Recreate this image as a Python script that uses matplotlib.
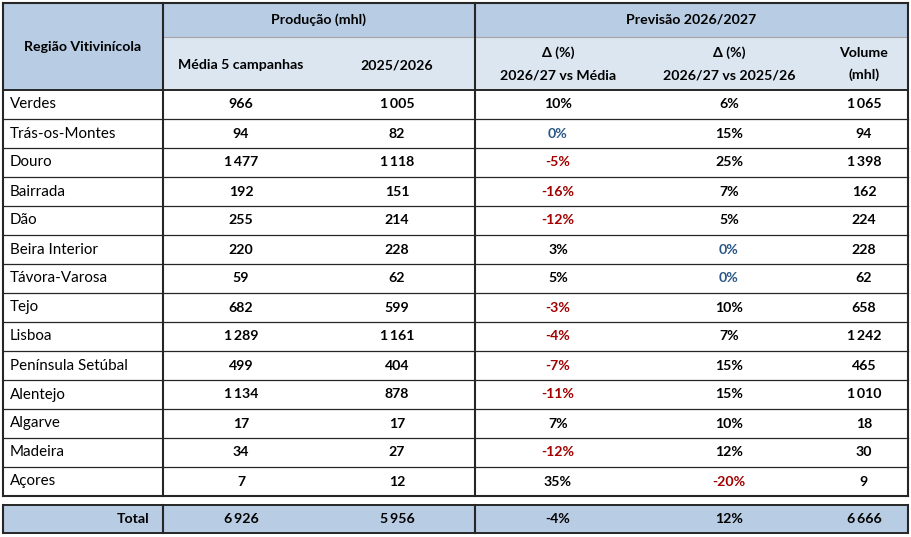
import matplotlib
matplotlib.use('Agg')
import matplotlib.pyplot as plt
from matplotlib.patches import Rectangle

plt.rcParams['font.family'] = ['Lato', 'DejaVu Sans']

regions = ['Verdes', 'Trás-os-Montes', 'Douro', 'Bairrada', 'Dão', 'Beira Interior',
           'Távora-Varosa', 'Tejo', 'Lisboa', 'Península Setúbal', 'Alentejo',
           'Algarve', 'Madeira', 'Açores']
media5 = [966, 94, 1477, 192, 255, 220, 59, 682, 1289, 499, 1134, 17, 34, 7]
prod_2526 = [1005, 82, 1118, 151, 214, 228, 62, 599, 1161, 404, 878, 17, 27, 12]
delta_media = [10, 0, -5, -16, -12, 3, 5, -3, -4, -7, -11, 7, -12, 35]
delta_2526 = [6, 15, 25, 7, 5, 0, 0, 10, 7, 15, 15, 10, 12, -20]
volume = [1065, 94, 1398, 162, 224, 228, 62, 658, 1242, 465, 1010, 18, 30, 9]
total = [6926, 5956, -4, 12, 6666]

DARK = '#b8cce4'
LIGHT = '#dce6f1'
LINE = '#262626'
RED = '#a00000'
BLUE = '#2a5686'


def fmt_num(v):
    return '{:,}'.format(v).replace(',', '\u2009')


def pct_color(v):
    if v < 0:
        return RED
    if v == 0:
        return BLUE
    return 'black'


fig = plt.figure(figsize=(9.12, 5.37), dpi=100)
ax = fig.add_axes([0, 0, 1, 1])
ax.set_xlim(0, 912)
ax.set_ylim(537, 0)
ax.axis('off')

# layout (pixels)
x0, x1, x2, x3 = 3, 163, 475, 908
col_x = [241, 397, 558, 729, 864]
y_top, y_h1, y_h2 = 3, 37, 90
row_h = 29
n = len(regions)
y_end = y_h2 + n * row_h
t_top, t_bot = 505, 533
fs = 10.2
fs_reg = 10.9

# header fills
ax.add_patch(Rectangle((x0, y_top), x1 - x0, y_h2 - y_top, color=DARK, lw=0))
ax.add_patch(Rectangle((x1, y_top), x3 - x1, y_h1 - y_top, color=DARK, lw=0))
ax.add_patch(Rectangle((x1, y_h1), x3 - x1, y_h2 - y_h1, color=LIGHT, lw=0))
ax.add_patch(Rectangle((x0, t_top), x3 - x0, t_bot - t_top, color=DARK, lw=0))

# header text
hdr = dict(ha='center', va='center', fontsize=fs, fontweight='bold')
ax.text((x0 + x1) / 2, 47, 'Região Vitivinícola', **hdr)
ax.text((x1 + x2) / 2, 20, 'Produção (mhl)', **hdr)
ax.text((x2 + x3) / 2, 20, 'Previsão 2026/2027', **hdr)
ax.text(col_x[0], 65, 'Média 5 campanhas', **hdr)
ax.text(col_x[1], 65, '2025/2026', **hdr)
ax.text(col_x[2], 53, 'Δ (%)', **hdr)
ax.text(col_x[2], 75, '2026/27 vs Média', **hdr)
ax.text(col_x[3], 53, 'Δ (%)', **hdr)
ax.text(col_x[3], 75, '2026/27 vs 2025/26', **hdr)
ax.text(col_x[4], 53, 'Volume', **hdr)
ax.text(col_x[4], 75, '(mhl)', **hdr)

# data rows
for i, reg in enumerate(regions):
    yc = y_h2 + (i + 0.5) * row_h
    ax.text(10, yc, reg, ha='left', va='center', fontsize=fs_reg)
    ax.text(col_x[0], yc, fmt_num(media5[i]), ha='center', va='center', fontsize=fs, fontweight='bold')
    ax.text(col_x[1], yc, fmt_num(prod_2526[i]), ha='center', va='center', fontsize=fs, fontweight='bold')
    ax.text(col_x[2], yc, '{}%'.format(delta_media[i]), ha='center', va='center', fontsize=fs,
            fontweight='bold', color=pct_color(delta_media[i]))
    ax.text(col_x[3], yc, '{}%'.format(delta_2526[i]), ha='center', va='center', fontsize=fs,
            fontweight='bold', color=pct_color(delta_2526[i]))
    ax.text(col_x[4], yc, fmt_num(volume[i]), ha='center', va='center', fontsize=fs, fontweight='bold')
    if i > 0:
        ax.plot([x0, x3], [y_h2 + i * row_h] * 2, color=LINE, lw=0.9)

# total row
yt = (t_top + t_bot) / 2
ax.text(x1 - 14, yt, 'Total', ha='right', va='center', fontsize=fs, fontweight='bold')
ax.text(col_x[0], yt, fmt_num(total[0]), ha='center', va='center', fontsize=fs, fontweight='bold')
ax.text(col_x[1], yt, fmt_num(total[1]), ha='center', va='center', fontsize=fs, fontweight='bold')
ax.text(col_x[2], yt, '{}%'.format(total[2]), ha='center', va='center', fontsize=fs, fontweight='bold')
ax.text(col_x[3], yt, '{}%'.format(total[3]), ha='center', va='center', fontsize=fs, fontweight='bold')
ax.text(col_x[4], yt, fmt_num(total[4]), ha='center', va='center', fontsize=fs, fontweight='bold')

# grid lines
ax.plot([x1, x3], [y_h1, y_h1], color='#a6a6a6', lw=0.8)
ax.plot([x0, x3], [y_h2, y_h2], color=LINE, lw=1.4)
for yy in (t_top, t_bot):
    ax.plot([x0, x3], [yy, yy], color=LINE, lw=1.4)
for xx in (x0, x1, x2, x3):
    ax.plot([xx, xx], [y_top, y_end], color=LINE, lw=1.5)
    ax.plot([xx, xx], [t_top, t_bot], color=LINE, lw=1.5)
ax.plot([x0, x3], [y_top, y_top], color=LINE, lw=1.5)
ax.plot([x0, x3], [y_end, y_end], color=LINE, lw=1.5)

fig.savefig('out.png', dpi=100)
